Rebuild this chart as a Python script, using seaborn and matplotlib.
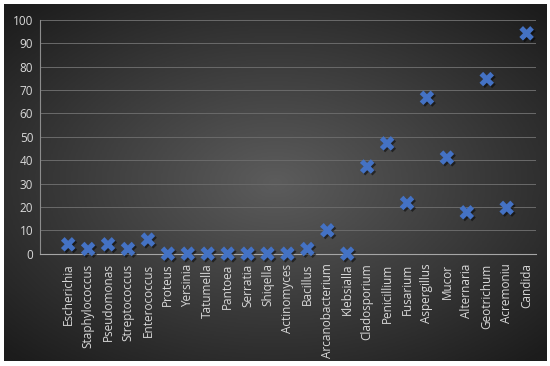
import numpy as np
import pandas as pd
import matplotlib
matplotlib.use('Agg')
import matplotlib.pyplot as plt
import matplotlib.patheffects as pe
import seaborn as sns

# data
genera = ['Escherichia', 'Staphylococcus', 'Pseudomonas', 'Streptococcus', 'Enterococcus',
          'Proteus', 'Yersinia', 'Tatumella', 'Pantoea', 'Serratia', 'Shiqella',
          'Actinomyces', 'Bacillus', 'Arcanobacterium', 'Klebsialla', 'Cladosporium',
          'Penicillium', 'Fusarium', 'Aspergillus', 'Mucor', 'Alternaria', 'Geotrichum',
          'Acremoniu', 'Candida']
values = [4, 2, 4, 2, 6, 0, 0, 0, 0, 0, 0, 0, 2, 10, 0, 37.3, 47.2, 21.7, 66.7,
          41.1, 17.7, 74.7, 19.6, 94.3]
y_ticks = list(range(0, 101, 10))

df = pd.DataFrame({'genus': genera, 'value': values})
df['pos'] = range(len(df))

sns.set_style('white')
plt.rcParams['font.family'] = ['Open Sans', 'DejaVu Sans']

fig = plt.figure(figsize=(5.5, 3.66), dpi=100)
fig.patch.set_facecolor('white')

# dark radial gradient panel behind the chart
bg = fig.add_axes([4 / 550, 1 - 361 / 366, 543 / 550, 357 / 366])
yy, xx = np.mgrid[-1:1:200j, -1:1:300j]
r = np.sqrt((xx * 0.95) ** 2 + (yy * 1.0) ** 2)
grad = np.clip(r / 1.35, 0, 1)
bg.imshow(grad, cmap=sns.blend_palette(['#5c5c5c', '#1c1c1c'], as_cmap=True),
          aspect='auto', extent=[0, 1, 0, 1], vmin=0, vmax=1)
bg.axis('off')

ax = fig.add_axes([40.3 / 550, 1 - 253.7 / 366, 495.7 / 550, 233.7 / 366])
ax.set_facecolor('none')
ax.patch.set_alpha(0)

sns.scatterplot(data=df, x='pos', y='value', marker='X', s=110, color='#4472c4',
                edgecolor='#4472c4', linewidth=0, ax=ax, zorder=3, clip_on=False,
                legend=False)
for coll in ax.collections:
    coll.set_path_effects([pe.SimplePatchShadow(offset=(1.2, -1.2), alpha=0.5,
                                                shadow_rgbFace='black'), pe.Normal()])

ax.set_xlim(-1.4, 23.47)
ax.set_ylim(0, 100)
ax.set_yticks(y_ticks)
ax.set_xticks(df['pos'])
ax.set_xticklabels(genera, rotation=90, fontsize=8.5, color='#d9d9d9')
ax.tick_params(axis='y', labelsize=8.5, labelcolor='#d9d9d9', length=0, pad=5)
ax.tick_params(axis='x', length=0, pad=7)
ax.grid(axis='y', color='#6a6a6a', linewidth=0.7)
ax.set_axisbelow(True)
for s in ['top', 'right']:
    ax.spines[s].set_visible(False)
ax.spines['bottom'].set_color('#a6a6a6')
ax.spines['left'].set_color('#8c8c8c')
ax.spines['left'].set_linewidth(0.8)
ax.set_xlabel('')
ax.set_ylabel('')

fig.savefig('out.png', dpi=100, facecolor='white')
